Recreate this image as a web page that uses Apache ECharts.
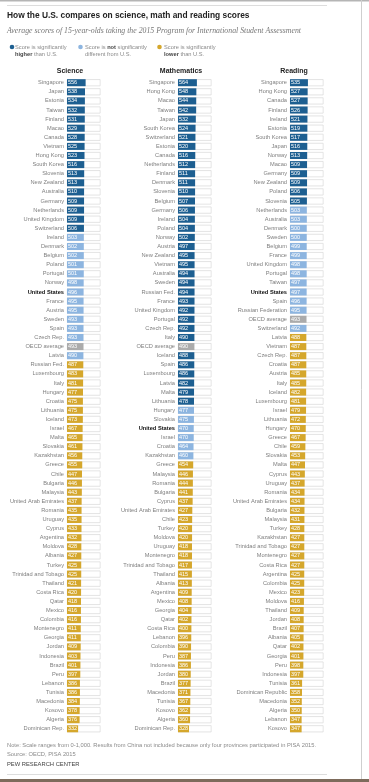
<!DOCTYPE html>
<html><head><meta charset="utf-8">
<script src="https://cdn.jsdelivr.net/npm/echarts@6/dist/echarts.min.js"></script>
<style>html,body{margin:0;padding:0;background:#fff}#c{width:369px;height:782px}</style>
</head><body><div id="c"></div>
<script>
// ---- data ----
const sciCountries = ["Singapore","Japan","Estonia","Taiwan","Finland","Macao","Canada","Vietnam","Hong Kong","South Korea","Slovenia","New Zealand","Australia","Germany","Netherlands","United Kingdom","Switzerland","Ireland","Denmark","Belgium","Poland","Portugal","Norway","United States","France","Austria","Sweden","Spain","Czech Rep.","OECD average","Latvia","Russian Fed.","Luxembourg","Italy","Hungary","Croatia","Lithuania","Iceland","Israel","Malta","Slovakia","Kazakhstan","Greece","Chile","Bulgaria","Malaysia","United Arab Emirates","Romania","Uruguay","Cyprus","Argentina","Moldova","Albania","Turkey","Trinidad and Tobago","Thailand","Costa Rica","Qatar","Mexico","Colombia","Montenegro","Georgia","Jordan","Indonesia","Brazil","Peru","Lebanon","Tunisia","Macedonia","Kosovo","Algeria","Dominican Rep."];
const sciScores = [556,538,534,532,531,529,528,525,523,516,513,513,510,509,509,509,506,503,502,502,501,501,498,496,495,495,493,493,493,493,490,487,483,481,477,475,475,473,467,465,461,456,455,447,446,443,437,435,435,433,432,428,427,425,425,421,420,418,416,416,411,411,409,403,401,397,386,386,384,378,376,332];
const sciStatus = ["h","h","h","h","h","h","h","h","h","h","h","h","h","h","h","h","h","n","n","n","n","n","n","n","n","n","n","n","n","o","n","l","l","l","l","l","l","l","l","l","l","l","l","l","l","l","l","l","l","l","l","l","l","l","l","l","l","l","l","l","l","l","l","l","l","l","l","l","l","l","l","l"];

const mathCountries = ["Singapore","Hong Kong","Macao","Taiwan","Japan","South Korea","Switzerland","Estonia","Canada","Netherlands","Finland","Denmark","Slovenia","Belgium","Germany","Ireland","Poland","Norway","Austria","New Zealand","Vietnam","Australia","Sweden","Russian Fed.","France","United Kingdom","Portugal","Czech Rep.","Italy","OECD average","Iceland","Spain","Luxembourg","Latvia","Malta","Lithuania","Hungary","Slovakia","United States","Israel","Croatia","Kazakhstan","Greece","Malaysia","Romania","Bulgaria","Cyprus","United Arab Emirates","Chile","Turkey","Moldova","Uruguay","Montenegro","Trinidad and Tobago","Thailand","Albania","Argentina","Mexico","Georgia","Qatar","Costa Rica","Lebanon","Colombia","Peru","Indonesia","Jordan","Brazil","Macedonia","Tunisia","Kosovo","Algeria","Dominican Rep."];
const mathScores = [564,548,544,542,532,524,521,520,516,512,511,511,510,507,506,504,504,502,497,495,495,494,494,494,493,492,492,492,490,490,488,486,486,482,479,478,477,475,470,470,464,460,454,446,444,441,437,427,423,420,420,418,418,417,415,413,409,408,404,402,400,396,390,387,386,380,377,371,367,362,360,328];
const mathStatus = ["h","h","h","h","h","h","h","h","h","h","h","h","h","h","h","h","h","h","h","h","h","h","h","h","h","h","h","h","h","o","h","h","h","h","h","h","n","n","n","n","n","n","l","l","l","l","l","l","l","l","l","l","l","l","l","l","l","l","l","l","l","l","l","l","l","l","l","l","l","l","l","l"];

const readCountries = ["Singapore","Hong Kong","Canada","Finland","Ireland","Estonia","South Korea","Japan","Norway","Macao","Germany","New Zealand","Poland","Slovenia","Netherlands","Australia","Denmark","Sweden","Belgium","France","United Kingdom","Portugal","Taiwan","United States","Spain","Russian Federation","OECD average","Switzerland","Latvia","Vietnam","Czech Rep.","Croatia","Austria","Italy","Iceland","Luxembourg","Israel","Lithuania","Hungary","Greece","Chile","Slovakia","Malta","Cyprus","Uruguay","Romania","United Arab Emirates","Bulgaria","Malaysia","Turkey","Kazakhstan","Trinidad and Tobago","Montenegro","Costa Rica","Argentina","Colombia","Mexico","Moldova","Thailand","Jordan","Brazil","Albania","Qatar","Georgia","Peru","Indonesia","Tunisia","Dominican Republic","Macedonia","Algeria","Lebanon","Kosovo"];
const readScores = [535,527,527,526,521,519,517,516,513,509,509,509,506,505,503,503,500,500,499,499,498,498,497,497,496,495,493,492,488,487,487,487,485,485,482,481,479,472,470,467,459,453,447,443,437,434,434,432,431,428,427,427,427,427,425,425,423,416,409,408,407,405,402,401,398,397,361,358,352,350,347,347];
const readStatus = ["h","h","h","h","h","h","h","h","h","h","h","h","h","h","n","n","n","n","n","n","n","n","n","n","n","n","o","n","l","l","l","l","l","l","l","l","l","l","l","l","l","l","l","l","l","l","l","l","l","l","l","l","l","l","l","l","l","l","l","l","l","l","l","l","l","l","l","l","l","l","l","l"];

const subjects = ["Science","Mathematics","Reading"];
const scaleMax = 1000;

// ---- styles ----
const FONT = "'Liberation Sans', Arial, sans-serif";
const colors = {h:"#1d5f91", n:"#8db5e0", l:"#d5a72c", o:"#ababab"};
const gridLefts = [67, 178, 290];
const gridCenters = [70, 181, 294];
const gridW = 33.5;
const rowH = 9.1;
const gridTop = 78.15;
const nRows = sciCountries.length;

const chart = echarts.init(document.getElementById('c'), null, {renderer:'canvas'});

const sets = [
  [sciCountries, sciScores, sciStatus],
  [mathCountries, mathScores, mathStatus],
  [readCountries, readScores, readStatus]
];

const grid = [], xAxis = [], yAxis = [], series = [];
sets.forEach((s, i) => {
  const [cats, vals, st] = s;
  grid.push({left: gridLefts[i], top: gridTop, width: gridW, height: rowH * nRows, containLabel: false});
  xAxis.push({type:'value', gridIndex:i, min:0, max:scaleMax, show:false});
  yAxis.push({type:'category', gridIndex:i, data:cats, inverse:true,
    axisLine:{show:false}, axisTick:{show:false}, splitLine:{show:false},
    axisLabel:{fontSize:5.7, color:'#808080', margin:3, fontFamily:FONT, interval:0,
      formatter: v => v === 'United States' ? '{us|' + v + '}' : v,
      rich:{us:{fontSize:5.7, fontWeight:'bold', color:'#111', fontFamily:FONT}}}});
  series.push({type:'bar', xAxisIndex:i, yAxisIndex:i, data: cats.map(() => scaleMax),
    barWidth:7, silent:true, z:1, animation:false,
    itemStyle:{color:'#fff', borderColor:'#d9d9d9', borderWidth:0.7}});
  series.push({type:'bar', xAxisIndex:i, yAxisIndex:i, barWidth:7, barGap:'-100%', z:2, animation:false,
    data: vals.map((v, j) => ({value:v, itemStyle:{color: colors[st[j]]}})),
    label:{show:true, position:'insideLeft', distance:1, color:'#fff', fontSize:5.5, fontFamily:FONT}});
});

const graphic = [
  {type:'rect', shape:{x:0, y:0, width:369, height:1.5}, style:{fill:'#b5b5b5'}, silent:true},
  {type:'rect', shape:{x:0, y:779, width:369, height:3}, style:{fill:'#7d6b5b'}, silent:true},
  {type:'line', shape:{x1:361.5, y1:0, x2:361.5, y2:779}, style:{stroke:'#cfcfcf', lineWidth:1}, silent:true},
  {type:'line', shape:{x1:7, y1:5.5, x2:327, y2:5.5}, style:{stroke:'#dddddd', lineWidth:1}, silent:true},
  {type:'line', shape:{x1:7, y1:774.5, x2:327, y2:774.5}, style:{stroke:'#dddddd', lineWidth:1}, silent:true},
  {type:'text', style:{x:7, y:15.7, text:'How the U.S. compares on science, math and reading scores', fontSize:8.4, fontWeight:'bold', fontFamily:FONT, fill:'#222', verticalAlign:'middle'}},
  {type:'text', style:{x:7, y:31, text:'Average scores of 15-year-olds taking the 2015 Program for International Student Assessment', fontSize:7.8, fontStyle:'italic', fontFamily:"'Liberation Serif', 'Times New Roman', serif", fill:'#777', verticalAlign:'middle'}},
  {type:'circle', shape:{cx:12, cy:47, r:2.3}, style:{fill:colors.h}},
  {type:'circle', shape:{cx:80.5, cy:47, r:2.3}, style:{fill:colors.n}},
  {type:'circle', shape:{cx:159.5, cy:47, r:2.3}, style:{fill:colors.l}},
  {type:'text', style:{x:15, y:43.5, text:'Score is significantly\n{b|higher} than U.S.', fontSize:5.7, lineHeight:7, fontFamily:FONT, fill:'#8a8a8a', rich:{b:{fontSize:5.7, fontWeight:'bold', fill:'#444', fontFamily:FONT, lineHeight:7}}}},
  {type:'text', style:{x:85, y:43.5, text:'Score is {b|not} significantly\ndifferent from U.S.', fontSize:5.7, lineHeight:7, fontFamily:FONT, fill:'#8a8a8a', rich:{b:{fontSize:5.7, fontWeight:'bold', fill:'#444', fontFamily:FONT, lineHeight:7}}}},
  {type:'text', style:{x:164, y:43.5, text:'Score is significantly\n{b|lower} than U.S.', fontSize:5.7, lineHeight:7, fontFamily:FONT, fill:'#8a8a8a', rich:{b:{fontSize:5.7, fontWeight:'bold', fill:'#444', fontFamily:FONT, lineHeight:7}}}},
  {type:'text', style:{x:7, y:745.7, text:'Note: Scale ranges from 0-1,000. Results from China not included because only four provinces participated in PISA 2015.', fontSize:5.75, fontFamily:FONT, fill:'#8a8a8a', verticalAlign:'middle'}},
  {type:'text', style:{x:7, y:754, text:'Source: OECD, PISA 2015', fontSize:5.75, fontFamily:FONT, fill:'#8a8a8a', verticalAlign:'middle'}},
  {type:'text', style:{x:7, y:764, text:'PEW RESEARCH CENTER', fontSize:5.8, fontFamily:FONT, fill:'#444', verticalAlign:'middle'}}
];
subjects.forEach((name, i) => {
  graphic.push({type:'text', style:{x:gridCenters[i], y:70.7, text:name, fontSize:7, fontWeight:'bold', fontFamily:FONT, fill:'#222', align:'center', verticalAlign:'middle'}});
});

chart.setOption({animation:false, grid, xAxis, yAxis, series, graphic});
</script></body></html>
